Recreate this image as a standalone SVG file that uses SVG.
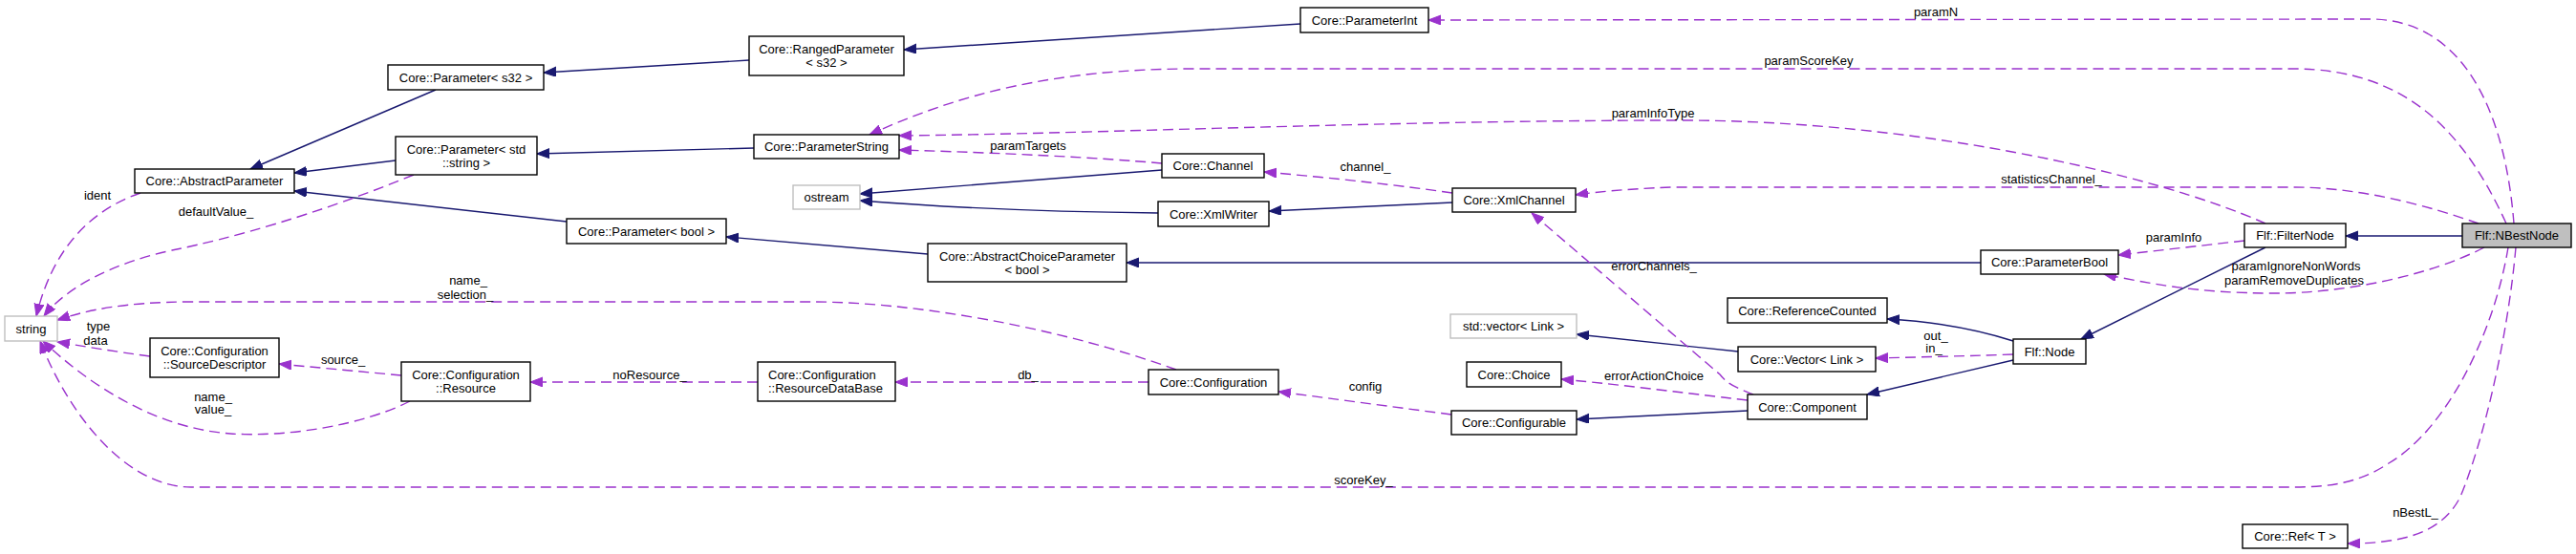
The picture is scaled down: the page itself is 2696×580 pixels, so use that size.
<svg xmlns="http://www.w3.org/2000/svg" width="2696" height="580" viewBox="0 0 2696 580">
<style>
.n rect{fill:#ffffff;stroke:#000000;stroke-width:1.4}
.n.g rect{stroke:#bfbfbf}
.n.cur rect{fill:#bfbfbf}
text{font-family:"Liberation Sans",Arial,sans-serif;font-size:13px;fill:#000000}
.n text{text-anchor:middle}
.n text.l{text-anchor:start}
.lbl text{text-anchor:middle}
.inh{fill:none;stroke:#191970;stroke-width:1.4;marker-end:url(#ab)}
.use{fill:none;stroke:#9a32cd;stroke-width:1.4;stroke-dasharray:11,6;marker-end:url(#ap)}
</style>
<defs>
<marker id="ab" markerUnits="userSpaceOnUse" markerWidth="14" markerHeight="12" refX="13" refY="5" orient="auto"><path d="M0,0 L13,5 L0,10 z" fill="#191970" stroke="#191970"/></marker>
<marker id="ap" markerUnits="userSpaceOnUse" markerWidth="14" markerHeight="12" refX="13" refY="5" orient="auto"><path d="M0,0 L13,5 L0,10 z" fill="#9a32cd" stroke="#9a32cd"/></marker>
</defs>
<rect x="0" y="0" width="2696" height="580" fill="#ffffff"/>
<g id="connectors">
<path class="inh" d="M456,94 L262,177"/>
<path class="inh" d="M414,168 L308,181"/>
<path class="inh" d="M593,232 L308,200"/>
<path class="inh" d="M784,63 L569,76"/>
<path class="inh" d="M1361,25 L946,52"/>
<path class="inh" d="M789,155 L562,161"/>
<path class="inh" d="M1216,178 L900,203"/>
<path class="inh" d="M1212,223 C1120,222 1000,218 900,210"/>
<path class="inh" d="M1520,212 L1328,221"/>
<path class="inh" d="M971,266 L760,248"/>
<path class="inh" d="M2073,275 L1179,275"/>
<path class="inh" d="M2577,247 L2455,247"/>
<path class="inh" d="M2371,259 L2178,355"/>
<path class="inh" d="M2107,357 C2070,345 2030,337 1975,334"/>
<path class="inh" d="M2107,377 L1954,413"/>
<path class="inh" d="M1819,368 L1650,350"/>
<path class="inh" d="M1829,430 L1650,439"/>
<path class="use" d="M2631,234 C2622,120 2580,20 2480,20 L1495,21"/>
<path class="use" d="M2623,234 C2580,140 2520,72 2400,72 L1250,72 C1100,72 1000,100 910,141"/>
<path class="use" d="M2371,234 C2250,180 2000,126 1760,126 C1450,126 1150,140 941,142"/>
<path class="use" d="M1216,171 C1150,165 1050,160 941,157"/>
<path class="use" d="M1520,202 C1450,192 1380,185 1323,180"/>
<path class="use" d="M2594,234 C2540,215 2470,196 2400,196 L1750,196 C1700,198 1670,201 1649,204"/>
<path class="use" d="M1835,413 C1815,405 1808,402 1800,392 L1603,223"/>
<path class="use" d="M2349,252 L2217,267"/>
<path class="use" d="M2600,259 C2540,290 2450,307 2380,307 C2300,307 2250,297 2202,287"/>
<path class="use" d="M2107,371 C2050,373 2000,374 1963,375"/>
<path class="use" d="M1829,419 C1750,410 1700,403 1634,397"/>
<path class="use" d="M1519,434 L1338,410"/>
<path class="use" d="M1202,400 L937,400"/>
<path class="use" d="M793,400 L555,400"/>
<path class="use" d="M420,393 L292,381"/>
<path class="use" d="M429,420 C380,445 300,458 241,454 C160,448 90,400 45,357"/>
<path class="use" d="M157,373 C120,368 90,363 60,358"/>
<path class="use" d="M1231,387 C1100,340 950,316 850,316 L200,316 C130,316 90,325 60,335"/>
<path class="use" d="M147,202 C95,220 55,260 38,331"/>
<path class="use" d="M433,183 C330,225 240,250 180,262 C120,275 70,300 46,331"/>
<path class="use" d="M2625,259 C2610,350 2560,450 2500,485 C2470,505 2440,510 2400,510 L200,510 C130,510 70,430 42,357"/>
<path class="use" d="M2633,259 C2625,350 2600,460 2575,520 C2555,560 2510,569 2457,569"/>
</g>
<g class="lbl" id="labels">
<text x="2026" y="16.5">paramN</text>
<text x="1893" y="67.5">paramScoreKey</text>
<text x="1730" y="122.5">paramInfoType</text>
<text x="1076" y="156.5">paramTargets</text>
<text x="1429" y="178.5">channel_</text>
<text x="2147" y="191.5">statisticsChannel_</text>
<text x="2275" y="252.5">paramInfo</text>
<text x="2403" y="282.5">paramIgnoreNonWords</text>
<text x="2401" y="297.5">paramRemoveDuplicates</text>
<text x="1731" y="282.5">errorChannels_</text>
<text x="2026" y="355.5">out_</text>
<text x="2024" y="368.5">in_</text>
<text x="1731" y="397.5">errorActionChoice</text>
<text x="1429" y="408.5">config</text>
<text x="1076" y="396.5">db_</text>
<text x="680" y="396.5">noResource_</text>
<text x="359" y="380.5">source_</text>
<text x="223" y="419.5">name_</text>
<text x="223" y="432.5">value_</text>
<text x="103" y="345.5">type</text>
<text x="100" y="360.5">data</text>
<text x="490" y="297.5">name_</text>
<text x="487" y="312.5">selection_</text>
<text x="102" y="208.5">ident</text>
<text x="226" y="225.5">defaultValue_</text>
<text x="1427" y="506.5">scoreKey_</text>
<text x="2528" y="540.5">nBestL_</text>
</g>
<g class="n cur" id="n_nbest"><rect x="2577" y="234" width="114" height="25"/><text x="2634" y="251">Flf::NBestNode</text></g>
<g class="n" id="n_filter"><rect x="2349" y="234" width="106" height="25"/><text x="2402" y="251">Flf::FilterNode</text></g>
<g class="n" id="n_pint"><rect x="1361" y="8" width="134" height="26"/><text x="1428" y="25.5">Core::ParameterInt</text></g>
<g class="n" id="n_ranged"><rect x="784" y="38" width="162" height="41"/><text x="865" y="56">Core::RangedParameter</text><text x="865" y="70">&lt; s32 &gt;</text></g>
<g class="n" id="n_ps32"><rect x="406" y="68" width="163" height="26"/><text x="487.5" y="85.5">Core::Parameter&lt; s32 &gt;</text></g>
<g class="n" id="n_absparam"><rect x="141" y="177" width="167" height="25"/><text x="224.5" y="194">Core::AbstractParameter</text></g>
<g class="n g" id="n_string"><rect x="5" y="331" width="55" height="26"/><text x="32.5" y="348.5">string</text></g>
<g class="n" id="n_pstd"><rect x="414" y="143" width="148" height="40"/><text x="488" y="160.5">Core::Parameter&lt; std</text><text x="488" y="174.5">::string &gt;</text></g>
<g class="n" id="n_pstring"><rect x="789" y="141" width="152" height="25"/><text x="865" y="158">Core::ParameterString</text></g>
<g class="n" id="n_channel"><rect x="1216" y="161" width="107" height="25"/><text x="1269.5" y="178">Core::Channel</text></g>
<g class="n g" id="n_ostream"><rect x="830" y="194" width="70" height="25"/><text x="865" y="211">ostream</text></g>
<g class="n" id="n_xmlwriter"><rect x="1212" y="211" width="116" height="26"/><text x="1270" y="228.5">Core::XmlWriter</text></g>
<g class="n" id="n_xmlchannel"><rect x="1520" y="197" width="129" height="25"/><text x="1584.5" y="214">Core::XmlChannel</text></g>
<g class="n" id="n_pbool"><rect x="593" y="229" width="167" height="26"/><text x="676.5" y="246.5">Core::Parameter&lt; bool &gt;</text></g>
<g class="n" id="n_acp"><rect x="971" y="255" width="208" height="40"/><text x="1075" y="272.5">Core::AbstractChoiceParameter</text><text x="1075" y="286.5">&lt; bool &gt;</text></g>
<g class="n" id="n_parambool"><rect x="2073" y="262" width="144" height="25"/><text x="2145" y="279">Core::ParameterBool</text></g>
<g class="n" id="n_refcounted"><rect x="1808" y="312" width="167" height="26"/><text x="1891.5" y="329.5">Core::ReferenceCounted</text></g>
<g class="n g" id="n_stdvector"><rect x="1518" y="329" width="132" height="25"/><text x="1584" y="346">std::vector&lt; Link &gt;</text></g>
<g class="n" id="n_vector"><rect x="1819" y="363" width="144" height="26"/><text x="1891" y="380.5">Core::Vector&lt; Link &gt;</text></g>
<g class="n" id="n_choice"><rect x="1535" y="379" width="99" height="26"/><text x="1584.5" y="396.5">Core::Choice</text></g>
<g class="n" id="n_component"><rect x="1829" y="413" width="125" height="26"/><text x="1891.5" y="430.5">Core::Component</text></g>
<g class="n" id="n_configurable"><rect x="1519" y="430" width="131" height="25"/><text x="1584.5" y="447">Core::Configurable</text></g>
<g class="n" id="n_flfnode"><rect x="2107" y="355" width="76" height="26"/><text x="2145" y="372.5">Flf::Node</text></g>
<g class="n" id="n_configuration"><rect x="1202" y="387" width="136" height="26"/><text x="1270" y="404.5">Core::Configuration</text></g>
<g class="n" id="n_rdb"><rect x="793" y="379" width="144" height="41"/><text class="l" x="804" y="397">Core::Configuration</text><text class="l" x="804" y="411">::ResourceDataBase</text></g>
<g class="n" id="n_resource"><rect x="420" y="379" width="135" height="41"/><text x="487.5" y="397">Core::Configuration</text><text x="487.5" y="411">::Resource</text></g>
<g class="n" id="n_sd"><rect x="157" y="354" width="135" height="41"/><text x="224.5" y="372">Core::Configuration</text><text x="224.5" y="386">::SourceDescriptor</text></g>
<g class="n" id="n_ref"><rect x="2347" y="549" width="110" height="25"/><text x="2402" y="566">Core::Ref&lt; T &gt;</text></g>
</svg>
